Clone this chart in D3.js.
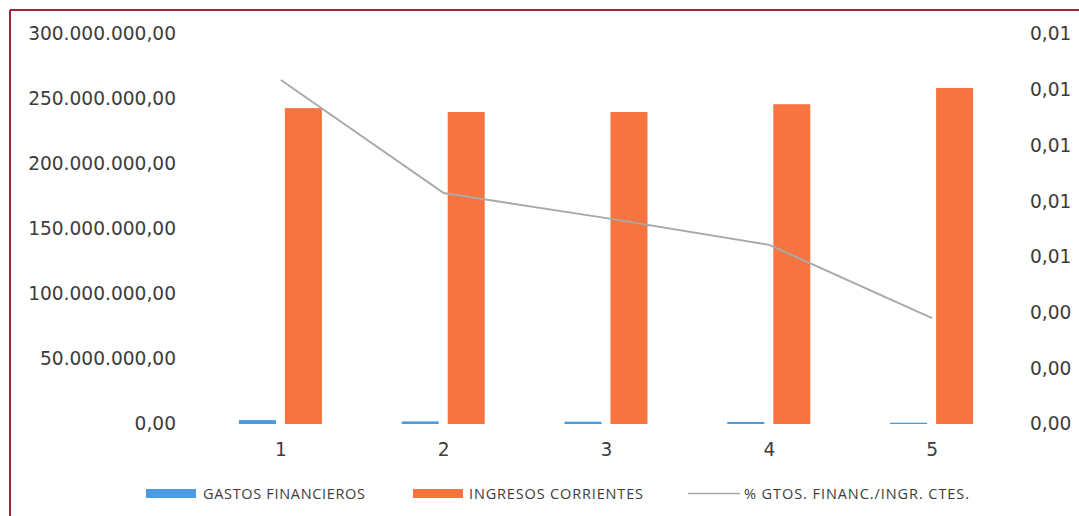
<!DOCTYPE html>
<html><head><meta charset="utf-8">
<script src="https://cdn.jsdelivr.net/npm/d3@7"></script>
<style>body{margin:0;background:#fff;} svg{display:block;}</style>
</head><body>
<svg id="c" width="1079" height="516"></svg>
<script>
const categories = ["1","2","3","4","5"];
const gastosFinancieros = [3000000, 2000000, 1770000, 1580000, 980000];
const ingresosCorrientes = [243000000, 240000000, 240000000, 246000000, 258500000];
const ratio = [0.01235, 0.00829, 0.00739, 0.00643, 0.0038];
const leftTicks = [0, 50000000, 100000000, 150000000, 200000000, 250000000, 300000000];
const rightTicks = [0, 0.002, 0.004, 0.006, 0.008, 0.010, 0.012, 0.014];
const seriesNames = ["GASTOS FINANCIEROS", "INGRESOS CORRIENTES", "% GTOS. FINANC./INGR. CTES."];

const svg = d3.select("#c");
const axisFont = "'DejaVu Sans', sans-serif";
const legendFont = "'Open Sans', sans-serif";
const blue = "#4a9be0", orange = "#f5743f", grey = "#a9a9a9", txt = "#3c3c3c";

// frame
svg.append("line").attr("x1",10).attr("x2",1079).attr("y1",10).attr("y2",10).attr("stroke","#a8203c").attr("stroke-width",2);
svg.append("line").attr("x1",10).attr("x2",10).attr("y1",10).attr("y2",516).attr("stroke","#a8203c").attr("stroke-width",2);

const x = d3.scaleBand().domain(categories).range([199.5, 1013.5]);
const yL = d3.scaleLinear().domain([0, 300000000]).range([424, 34]);
const yR = d3.scaleLinear().domain([0, 0.014]).range([424, 34]);

const fmtL = v => d3.format(",.2f")(v).replace(/,/g,"#").replace(/\./g,",").replace(/#/g,".");
const fmtR = v => d3.format(".2f")(v).replace(".",",");

function styleAxis(g){
  g.select(".domain").remove();
  g.selectAll("text").attr("font-family",axisFont).attr("font-size",18.6).attr("fill",txt);
}
svg.append("g").attr("transform","translate(182,0)")
  .call(d3.axisLeft(yL).tickValues(leftTicks).tickFormat(fmtL).tickSize(0).tickPadding(6)).call(styleAxis);
svg.append("g").attr("transform","translate(1024,0)")
  .call(d3.axisRight(yR).tickValues(rightTicks).tickFormat(fmtR).tickSize(0).tickPadding(6)).call(styleAxis);
svg.append("g").attr("transform","translate(0,424)")
  .call(d3.axisBottom(x).tickSize(0).tickPadding(19)).call(styleAxis);

const bw = 37, gap = 10;
svg.append("g").selectAll("rect").data(categories).join("rect")
  .attr("x", d => x(d) + x.bandwidth()/2 - gap/2 - bw)
  .attr("width", bw)
  .attr("y", (d,i) => yL(gastosFinancieros[i]))
  .attr("height", (d,i) => yL(0) - yL(gastosFinancieros[i]))
  .attr("fill", blue);
svg.append("g").selectAll("rect").data(categories).join("rect")
  .attr("x", d => x(d) + x.bandwidth()/2 + gap/2 - 1)
  .attr("width", bw)
  .attr("y", (d,i) => yL(ingresosCorrientes[i]))
  .attr("height", (d,i) => yL(0) - yL(ingresosCorrientes[i]))
  .attr("fill", orange);

const line = d3.line().x((d,i) => x(categories[i]) + x.bandwidth()/2).y(d => yR(d));
svg.append("path").datum(ratio).attr("d", line).attr("fill","none").attr("stroke",grey).attr("stroke-width",2);

// legend
const lg = svg.append("g").attr("font-family",legendFont).attr("font-size",14.5).attr("fill",txt);
lg.append("rect").attr("x",146).attr("y",489).attr("width",50).attr("height",9).attr("fill",blue);
lg.append("text").attr("x",203).attr("y",499).attr("textLength",162).text(seriesNames[0]);
lg.append("rect").attr("x",413).attr("y",489).attr("width",50).attr("height",9).attr("fill",orange);
lg.append("text").attr("x",469).attr("y",499).attr("textLength",174).text(seriesNames[1]);
lg.append("line").attr("x1",688).attr("x2",740).attr("y1",493.5).attr("y2",493.5).attr("stroke",grey).attr("stroke-width",1.5);
lg.append("text").attr("x",744).attr("y",499).attr("textLength",225).text(seriesNames[2]);
</script>
</body></html>
